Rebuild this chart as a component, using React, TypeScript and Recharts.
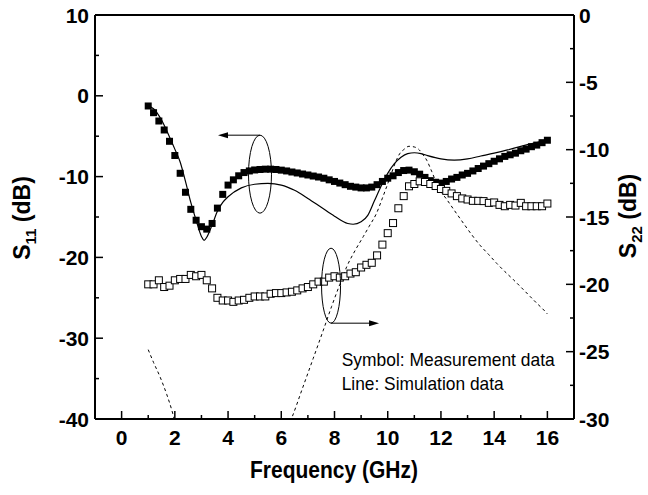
import React from 'react';
import { ComposedChart, Line, XAxis, YAxis, ReferenceDot } from 'recharts';

// measurement sweep: 1 to 16 GHz, 0.2 GHz step
const measFreq: number[] = Array.from({ length: 76 }, (_, i) => Math.round((1 + i * 0.2) * 10) / 10);

const s11Meas = [
  -1.26, -2.09, -3.12, -4.23, -5.63, -7.39, -9.59, -11.94, -14.05, -15.4,
  -16.2, -16.5, -15.8, -13.9, -12.2, -11.05, -10.4, -9.9, -9.5, -9.3,
  -9.18, -9.12, -9.08, -9.08, -9.12, -9.2, -9.3, -9.43, -9.55, -9.68,
  -9.8, -9.93, -10.05, -10.2, -10.4, -10.6, -10.8, -11.0, -11.2, -11.3,
  -11.4, -11.4, -11.3, -11.0, -10.6, -10.2, -9.9, -9.5, -9.25, -9.2,
  -9.4, -9.7, -10.1, -10.5, -10.7, -10.8, -10.6, -10.3, -10.1, -9.8,
  -9.6, -9.3, -9.0, -8.7, -8.4, -8.1, -7.8, -7.5, -7.3, -7.1,
  -6.8, -6.6, -6.3, -6.1, -5.8, -5.5,
];

const s22Meas = [
  -20.0, -20.0, -19.7, -20.2, -20.1, -19.7, -19.6, -19.6, -19.3, -19.4,
  -19.3, -19.7, -20.3, -21.0, -21.2, -21.2, -21.3, -21.2, -21.15, -21.0,
  -20.9, -20.9, -20.9, -20.7, -20.65, -20.65, -20.6, -20.55, -20.45, -20.3,
  -20.2, -20.0, -19.8, -19.8, -19.5, -19.4, -19.5, -19.4, -19.2, -19.1,
  -18.75, -18.55, -18.4, -17.85, -17.05, -16.2, -15.45, -14.35, -13.45, -12.72,
  -12.55, -12.35, -12.4, -12.55, -12.7, -12.92, -13.06, -13.25, -13.45, -13.62,
  -13.7, -13.8, -13.8, -13.82, -13.95, -13.92, -14.1, -14.2, -14.1, -14.15,
  -13.95, -14.2, -14.2, -14.2, -14.2, -14.0,
];

const s11SimFreq = [
  1.0, 1.2, 1.5, 1.8, 2.0, 2.2, 2.4, 2.6, 2.8, 3.0, 3.1, 3.2, 3.4, 3.6, 3.8, 4.0,
  4.5, 5.0, 5.5, 6.0, 6.5, 7.0, 7.5, 8.0, 8.5, 8.7, 9.0, 9.25, 9.5, 9.75, 10.0,
  10.25, 10.5, 10.75, 11.0, 11.25, 11.5, 12.0, 12.5, 13.0, 13.5, 14.0, 14.5, 15.0, 15.5, 16.0,
];
const s11Sim = [
  -1.3, -1.6, -3.0, -5.1, -6.6, -8.2, -10.6, -13.2, -15.4, -17.4, -17.9, -17.5, -16.0, -14.3, -13.2, -12.5,
  -11.4, -10.95, -10.85, -11.05, -11.7, -12.7, -13.8, -14.9, -15.8, -15.9, -15.6, -14.8, -13.0, -11.2, -9.6,
  -8.4, -7.6, -7.15, -7.05, -7.15, -7.4, -7.8, -7.95, -7.8, -7.45, -7.1, -6.7, -6.25, -5.85, -5.5,
];

// null marks the gap where the curve runs below the -30 dB floor
const s22SimFreq = [
  1.0, 1.2, 1.44, 1.7, 1.88, 2.05, 4.0, 6.25, 6.39, 6.8, 7.2, 7.58, 7.89, 8.2, 8.46, 8.8,
  9.08, 9.3, 9.58, 9.8, 9.96, 10.15, 10.3, 10.45, 10.6, 10.8, 11.0, 11.15, 11.3, 11.47, 11.65,
  11.84, 12.0, 12.22, 12.5, 12.84, 13.15, 13.47, 13.8, 14.1, 14.4, 14.72, 15.0, 15.35, 15.6, 15.91, 16.0,
];
const s22Sim: (number | null)[] = [
  -24.85, -25.8, -26.85, -28.2, -29.3, -30.6, null, -30.6, -29.94, -27.7, -25.5, -23.4, -21.65, -20.0, -18.69, -17.4,
  -16.46, -15.7, -14.72, -13.6, -12.75, -11.7, -10.9, -10.3, -10.0, -9.75, -9.8, -9.95, -10.3, -10.8, -11.6,
  -12.5, -13.1, -13.7, -14.5, -15.45, -16.3, -17.1, -17.8, -18.45, -19.05, -19.65, -20.2, -20.9, -21.4, -22.0, -22.2,
];

const xTicks = [0, 1, 2, 3, 4, 5, 6, 7, 8, 9, 10, 11, 12, 13, 14, 15, 16];
const leftTicks = [10, 5, 0, -5, -10, -15, -20, -25, -30, -35, -40];
const rightTicks = [0, -2.5, -5, -7.5, -10, -12.5, -15, -17.5, -20, -22.5, -25, -27.5, -30];

const zip = (xs: number[], ys: (number | null)[]) => xs.map((f, i) => ({ f, v: ys[i] }));
const s11MeasData = zip(measFreq, s11Meas);
const s22MeasData = zip(measFreq, s22Meas);
const s11SimData = zip(s11SimFreq, s11Sim);
const s22SimData = zip(s22SimFreq, s22Sim);

const FONT = '"Liberation Sans", Arial, sans-serif';
const MAJOR = 8;
const MINOR = 4;
const TICK_FS = 21;

const BottomTick = (props: any) => {
  const { x, y, payload } = props;
  const major = payload.value % 2 === 0;
  return (
    <g>
      <line x1={x} x2={x} y1={y} y2={y - (major ? MAJOR : MINOR)} stroke="#000" strokeWidth={1.5} />
      {major && (
        <text x={x} y={y + 26} textAnchor="middle" fontFamily={FONT} fontWeight="bold" fontSize={TICK_FS} fill="#000">
          {payload.value}
        </text>
      )}
    </g>
  );
};

const TopTick = (props: any) => {
  const { x, y, payload } = props;
  const major = payload.value % 2 === 0;
  return <line x1={x} x2={x} y1={y} y2={y + (major ? MAJOR : MINOR)} stroke="#000" strokeWidth={1.5} />;
};

const LeftTick = (props: any) => {
  const { x, y, payload } = props;
  const major = payload.value % 10 === 0;
  return (
    <g>
      <line x1={x} x2={x + (major ? MAJOR : MINOR)} y1={y} y2={y} stroke="#000" strokeWidth={1.5} />
      {major && (
        <text x={x - 6} y={y} dy="0.36em" textAnchor="end" fontFamily={FONT} fontWeight="bold" fontSize={TICK_FS} fill="#000">
          {payload.value}
        </text>
      )}
    </g>
  );
};

const RightTick = (props: any) => {
  const { x, y, payload } = props;
  const major = payload.value % 5 === 0;
  return (
    <g>
      <line x1={x} x2={x - (major ? MAJOR : MINOR)} y1={y} y2={y} stroke="#000" strokeWidth={1.5} />
      {major && (
        <text x={x + 5} y={y} dy="0.36em" textAnchor="start" fontFamily={FONT} fontWeight="bold" fontSize={TICK_FS} fill="#000">
          {payload.value}
        </text>
      )}
    </g>
  );
};

const FilledSquare = (props: any) => {
  const { cx, cy, index } = props;
  if (cx == null || cy == null) return <g key={index} />;
  return <rect key={index} x={cx - 3.5} y={cy - 3.5} width={7} height={7} fill="#000" />;
};

const OpenSquare = (props: any) => {
  const { cx, cy, index } = props;
  if (cx == null || cy == null) return <g key={index} />;
  return <rect key={index} x={cx - 3.5} y={cy - 3.5} width={7} height={7} fill="#fff" stroke="#000" strokeWidth={1} />;
};

// ellipse around the S11 curves with an arrow pointing to the left axis
const LeftMarker = (props: any) => {
  const { cx, cy } = props;
  const top = cy - 39;
  return (
    <g>
      <ellipse cx={cx} cy={cy} rx={11.5} ry={39} fill="none" stroke="#000" strokeWidth={1} />
      <line x1={cx} y1={top} x2={cx - 34} y2={top} stroke="#000" strokeWidth={1} />
      <polygon points={`${cx - 42},${top} ${cx - 32},${top - 3} ${cx - 32},${top + 3}`} fill="#000" />
    </g>
  );
};

// ellipse around the S22 curves with an arrow pointing to the right axis
const RightMarker = (props: any) => {
  const { cx, cy } = props;
  const bottom = cy + 37.5;
  return (
    <g>
      <ellipse cx={cx} cy={cy} rx={9.5} ry={37.5} fill="none" stroke="#000" strokeWidth={1} />
      <line x1={cx} y1={bottom} x2={cx + 40} y2={bottom} stroke="#000" strokeWidth={1} />
      <polygon points={`${cx + 48},${bottom} ${cx + 38},${bottom - 3} ${cx + 38},${bottom + 3}`} fill="#000" />
    </g>
  );
};

const NoteText = (props: any) => {
  const { cx, cy } = props;
  return (
    <g fontFamily={FONT} fontSize={19} fill="#000">
      <text x={cx} y={cy} textLength={213} lengthAdjust="spacingAndGlyphs">Symbol: Measurement data</text>
      <text x={cx} y={cy + 24} textLength={162} lengthAdjust="spacingAndGlyphs">Line: Simulation data</text>
    </g>
  );
};

export default function App() {
  return (
    <div style={{ position: 'absolute', left: 0, top: 0, width: 648, height: 495, background: '#fff' }}>
      <ComposedChart width={648} height={495} margin={{ top: 10, right: 14, bottom: 26, left: 35 }}>
        <XAxis
          type="number"
          dataKey="f"
          domain={[-1, 17]}
          ticks={xTicks}
          interval={0}
          tickSize={0}
          tickMargin={0}
          tickLine={false}
          tick={<BottomTick />}
          axisLine={{ stroke: '#000', strokeWidth: 2 }}
          height={50}
          allowDataOverflow
        />
        <XAxis
          xAxisId="top"
          orientation="top"
          type="number"
          dataKey="f"
          domain={[-1, 17]}
          ticks={xTicks}
          interval={0}
          tickSize={0}
          tickMargin={0}
          tickLine={false}
          tick={<TopTick />}
          axisLine={{ stroke: '#000', strokeWidth: 2 }}
          height={5}
        />
        <YAxis
          yAxisId="left"
          type="number"
          domain={[-40, 10]}
          ticks={leftTicks}
          interval={0}
          tickSize={0}
          tickMargin={0}
          tickLine={false}
          tick={<LeftTick />}
          axisLine={{ stroke: '#000', strokeWidth: 2 }}
          width={60}
          allowDataOverflow
        />
        <YAxis
          yAxisId="right"
          orientation="right"
          type="number"
          domain={[-30, 0]}
          ticks={rightTicks}
          interval={0}
          tickSize={0}
          tickMargin={0}
          tickLine={false}
          tick={<RightTick />}
          axisLine={{ stroke: '#000', strokeWidth: 2 }}
          width={60}
          allowDataOverflow
        />

        <Line
          yAxisId="left"
          data={s11SimData}
          dataKey="v"
          type="monotone"
          stroke="#000"
          strokeWidth={1.2}
          dot={false}
          activeDot={false}
          isAnimationActive={false}
        />
        <Line
          yAxisId="right"
          data={s22SimData}
          dataKey="v"
          type="monotone"
          stroke="#000"
          strokeWidth={1}
          strokeDasharray="3 3"
          dot={false}
          activeDot={false}
          connectNulls={false}
          isAnimationActive={false}
        />
        <Line
          yAxisId="left"
          data={s11MeasData}
          dataKey="v"
          stroke="none"
          dot={<FilledSquare />}
          activeDot={false}
          isAnimationActive={false}
        />
        <Line
          yAxisId="right"
          data={s22MeasData}
          dataKey="v"
          stroke="none"
          dot={<OpenSquare />}
          activeDot={false}
          isAnimationActive={false}
        />

        <ReferenceDot yAxisId="left" x={5.2} y={-9.7} shape={<LeftMarker />} />
        <ReferenceDot yAxisId="right" x={7.87} y={-20.1} shape={<RightMarker />} />
        <ReferenceDot yAxisId="right" x={8.27} y={-26.06} shape={<NoteText />} />
      </ComposedChart>

      <svg width={648} height={495} style={{ position: 'absolute', left: 0, top: 0, pointerEvents: 'none' }}>
        <text x={334} y={478} textAnchor="middle" fontFamily={FONT} fontWeight="bold" fontSize={23} textLength={168} lengthAdjust="spacingAndGlyphs">
          Frequency (GHz)
        </text>
        <text transform="translate(30,218) rotate(-90)" textAnchor="middle" fontFamily={FONT} fontWeight="bold" fontSize={23}>
          S<tspan fontSize={15} dy={6}>11</tspan>
          <tspan dy={-6}> (dB)</tspan>
        </text>
        <text transform="translate(636,216) rotate(-90)" textAnchor="middle" fontFamily={FONT} fontWeight="bold" fontSize={23}>
          S<tspan fontSize={15} dy={6}>22</tspan>
          <tspan dy={-6}> (dB)</tspan>
        </text>
      </svg>
    </div>
  );
}
